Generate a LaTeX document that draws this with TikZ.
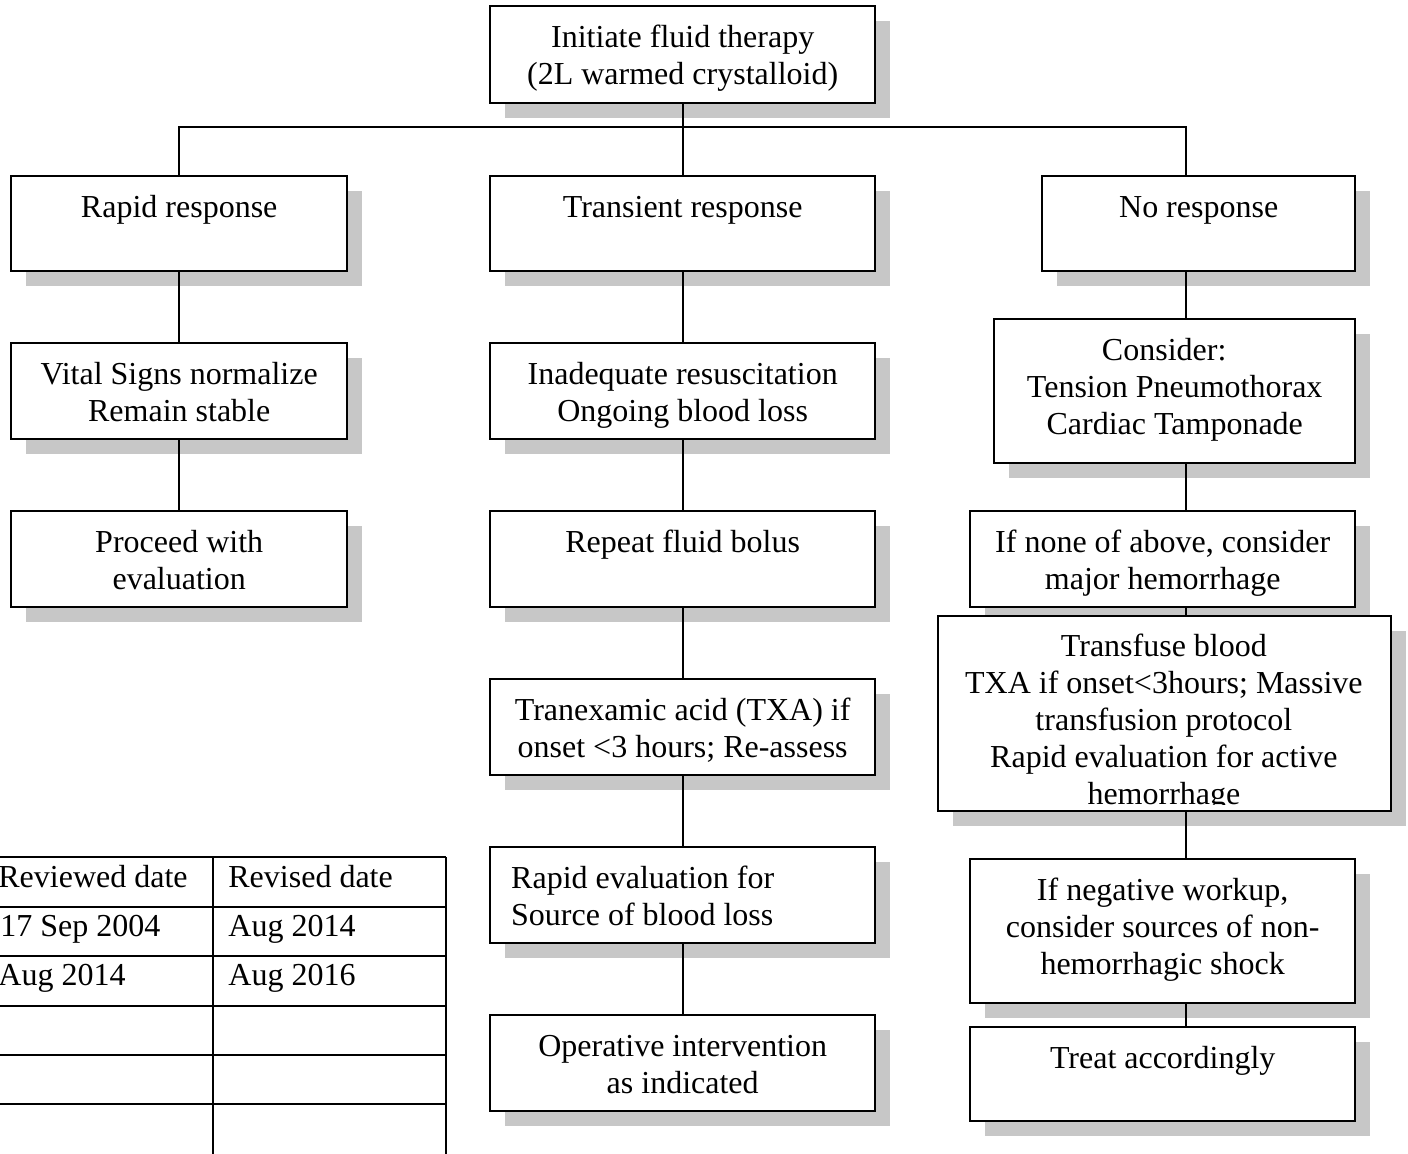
\documentclass[tikz,border=0pt]{standalone}
\usepackage{fontspec}
\setmainfont{Liberation Serif}
\usetikzlibrary{shadows}

\newlength{\px}
\setlength{\px}{0.5pt}
% box text: width, height (in px), lines
\newcommand{\boxtext}[3]{\parbox[c][#2\px][t]{#1\px}{\centering\rule{0pt}{41.4\px}#3}}
\newcommand{\lefttext}[3]{\parbox[c][#2\px][t]{#1\px}{\raggedright\leftskip=21\px\rule{0pt}{41.4\px}#3}}

\begin{document}
\begin{tikzpicture}[x=0.5pt, y=-0.5pt,
    boxtxt/.style = {inner sep=0pt, anchor=north west, font=\fontsize{16}{18.5}\selectfont},
    box/.style = {boxtxt, draw, line width=1.2pt, fill=white,
        drop shadow={shadow xshift=7.5pt, shadow yshift=-7.5pt, fill=black!22, opacity=1}},
    link/.style = {line width=0.9pt},
    cell/.style = {anchor=base west, inner sep=0pt, font=\fontsize{16}{18.5}\selectfont}]
    \useasboundingbox (0,0) rectangle (1408,1154);

    \node[box] (init) at (489,5) {\boxtext{385}{97}{Initiate fluid therapy\\(2L warmed crystalloid)}};

    \node[box] (rapid) at (10,175) {\boxtext{336}{95}{Rapid response}};
    \node[box] (trans) at (489,175) {\boxtext{385}{95}{Transient response}};
    \node[box] (noresp) at (1041,175) {\boxtext{313}{95}{No response}};

    \node[box] (vital) at (10,342) {\boxtext{336}{96}{Vital Signs normalize\\Remain stable}};
    \node[box] (proceed) at (10,510) {\boxtext{336}{96}{Proceed with\\evaluation}};

    \node[box] (inadeq) at (489,342) {\boxtext{385}{96}{Inadequate resuscitation\\Ongoing blood loss}};
    \node[box] (repeat) at (489,510) {\boxtext{385}{96}{Repeat fluid bolus}};
    \node[box] (txa) at (489,678) {\boxtext{385}{96}{Tranexamic acid (TXA) if\\onset <3 hours; Re-assess}};
    \node[box] (rapideval) at (489,846) {\lefttext{385}{96}{Rapid evaluation for\\Source of blood loss}};
    \node[box] (operative) at (489,1014) {\boxtext{385}{96}{Operative intervention\\as indicated}};

    \node[box] (consider) at (993,318) {\boxtext{361}{144}{Consider:\rule{21\px}{0pt}\\Tension Pneumothorax\\Cardiac Tamponade}};
    \node[box] (noneabove) at (969,510) {\boxtext{385}{96}{If none of above, consider\\major hemorrhage}};
    \node[box] (transfuse) at (937,615) {\boxtext{453}{195}{}};
    \begin{scope}
        \clip (937,615) rectangle (1390,804);
        \node[boxtxt] (transfusetxt) at (937,615) {\boxtext{453}{195}{Transfuse blood\\TXA if onset<3hours; Massive\\transfusion protocol\\Rapid evaluation for active\\hemorrhage}};
    \end{scope}
    \node[box] (negwork) at (969,858) {\boxtext{385}{144}{If negative workup,\\consider sources of non-\\hemorrhagic shock}};
    \node[box] (treat) at (969,1026) {\boxtext{385}{94}{Treat accordingly}};

    % connectors
    \coordinate (bus) at (681,127);
    \coordinate (spine) at (1186,0);
    \draw[link] (init.south) -- (init.south |- bus);
    \draw[link] (rapid.north) |- (bus) -| (noresp.north -| spine);
    \draw[link] (trans.north) -- (trans.north |- bus);

    \draw[link] (rapid) -- (vital);
    \draw[link] (vital) -- (proceed);

    \draw[link] (trans) -- (inadeq);
    \draw[link] (inadeq) -- (repeat);
    \draw[link] (repeat) -- (txa);
    \draw[link] (txa) -- (rapideval);
    \draw[link] (rapideval) -- (operative);

    \draw[link] (noresp.south -| spine) -- (consider.north -| spine);
    \draw[link] (consider.south -| spine) -- (noneabove.north -| spine);
    \draw[link] (noneabove.south -| spine) -- (transfuse.north -| spine);
    \draw[link] (transfuse.south -| spine) -- (negwork.north -| spine);
    \draw[link] (negwork.south -| spine) -- (treat.north -| spine);

    % review table
    \draw[link] (-5,857) -- (446,857);
    \draw[link] (-5,907) -- (446,907);
    \draw[link] (-5,956) -- (446,956);
    \draw[link] (-5,1006) -- (446,1006);
    \draw[link] (-5,1055) -- (446,1055);
    \draw[link] (-5,1104) -- (446,1104);
    \draw[link] (213,857) -- (213,1160);
    \draw[link] (446,857) -- (446,1160);
    \node[cell] (head1) at (-2,887) {Reviewed date};
    \node[cell] (head2) at (228,887) {Revised date};
    \node[cell] (rev1) at (0,936) {17 Sep 2004};
    \node[cell] (rvs1) at (228,936) {Aug 2014};
    \node[cell] (rev2) at (-2,985) {Aug 2014};
    \node[cell] (rvs2) at (228,985) {Aug 2016};
\end{tikzpicture}
\end{document}
